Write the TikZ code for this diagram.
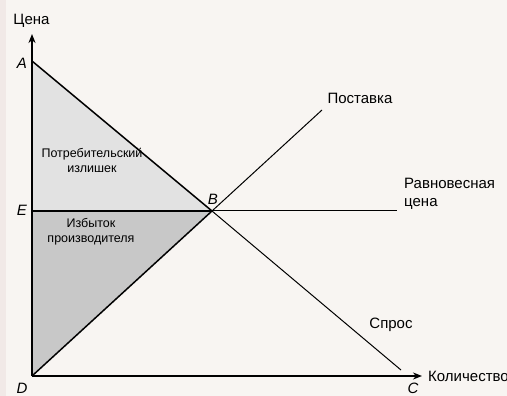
\documentclass[tikz,border=0pt]{standalone}
\usepackage{fontspec}
\setmainfont{Liberation Sans}
\usetikzlibrary{arrows.meta}
\definecolor{bgc}{HTML}{F8F5F2}
\definecolor{stripc}{HTML}{F1E9E7}
\definecolor{lightfill}{HTML}{E2E2E2}
\definecolor{darkfill}{HTML}{C8C8C8}
\tikzset{
  outlbl/.style={inner sep=0pt, font=\fontsize{15}{17.5}\selectfont},
  inlbl/.style={inner sep=0pt, align=center, font=\fontsize{12.5}{15.5}\selectfont},
  ptlbl/.style={inner sep=0pt, font=\fontsize{15}{17.5}\selectfont\itshape},
  axisline/.style={line width=2pt, -{Stealth[length=9pt,width=7pt]}},
  edge/.style={line width=1.5pt},
  ext/.style={line width=1pt},
}
\begin{document}
\begin{tikzpicture}[x=1pt,y=-1pt]
\useasboundingbox (0,0) rectangle (507,396);
\fill[bgc] (0,0) rectangle (507,396);
\fill[stripc] (0,0) rectangle (6,396);
% coordinates
\coordinate (D) at (32,376);
\coordinate (A) at (32,61);
\coordinate (E) at (32,211);
\coordinate (B) at (212,211);
\coordinate (Cend) at (401,370);
\coordinate (Send) at (322,110);
\coordinate (Qend) at (397,211);
\coordinate (Ytip) at (32,34);
\coordinate (Xtip) at (422,376);
% fills
\fill[lightfill] (A) -- (E) -- (B) -- cycle;
\fill[darkfill] (E) -- (B) -- (D) -- cycle;
% lines
\draw[ext] (B) -- (Cend);
\draw[ext] (B) -- (Send);
\draw[ext] (B) -- (Qend);
\draw[edge] (A) -- (B);
\draw[edge] (D) -- (B);
\draw[edge] (E) -- (B);
\draw[axisline] (D) -- (Ytip);
\draw[axisline] (D) -- (Xtip);
% labels
\node[outlbl, anchor=base] (ycap) at (31.5,25) {Цена};
\node[outlbl, anchor=base west] (xcap) at (428,381) {Количество};
\node[ptlbl] (la) at (22,63) {A};
\node[ptlbl] (le) at (22,210) {E};
\node[ptlbl] (ld) at (22,388) {D};
\node[ptlbl] (lc) at (413,388) {C};
\node[ptlbl] (lb) at (213,199) {B};
\node[outlbl, anchor=base] (supply) at (360,104) {Поставка};
\node[outlbl, anchor=base] (demand) at (391,328) {Спрос};
\node[outlbl, anchor=base west, align=left] (eq) at (404,206.5) {Равновесная\\цена};
\node[inlbl, anchor=base] (cs) at (92,172.5) {Потребительский\\излишек};
\node[inlbl, anchor=base] (ps) at (91,242.5) {Избыток\\производителя};
\end{tikzpicture}
\end{document}
